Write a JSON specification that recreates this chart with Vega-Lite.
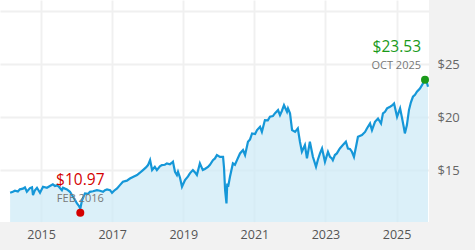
{
  "$schema": "https://vega.github.io/schema/vega-lite/v6.json",
  "width": 429,
  "height": 222,
  "autosize": {"type": "none"},
  "padding": {"left": 0, "top": 0, "right": 46, "bottom": 28},
  "background": "#f2f2f2",
  "config": {
    "view": {"fill": "white", "stroke": null},
    "font": "Open Sans",
    "axis": {"domain": false, "ticks": false, "gridColor": "#f0f0f0", "gridWidth": 2, "title": null}
  },
  "datasets": {
    "series": [
      {"date": "2014-02-17", "value": 12.86}, {"date": "2014-03-17", "value": 12.95}, {"date": "2014-04-08", "value": 13.05},
      {"date": "2014-05-08", "value": 12.98}, {"date": "2014-05-28", "value": 13.18}, {"date": "2014-06-29", "value": 13.25},
      {"date": "2014-07-19", "value": 13.37}, {"date": "2014-08-08", "value": 12.95}, {"date": "2014-09-09", "value": 13.30},
      {"date": "2014-09-30", "value": 13.37}, {"date": "2014-10-10", "value": 12.64}, {"date": "2014-10-30", "value": 13.10},
      {"date": "2014-11-20", "value": 13.33}, {"date": "2014-12-21", "value": 12.86}, {"date": "2015-01-21", "value": 13.43},
      {"date": "2015-03-02", "value": 13.33}, {"date": "2015-04-02", "value": 13.49}, {"date": "2015-05-02", "value": 13.65},
      {"date": "2015-05-23", "value": 13.50}, {"date": "2015-06-13", "value": 13.56}, {"date": "2015-07-03", "value": 13.43},
      {"date": "2015-08-03", "value": 13.10}, {"date": "2015-08-14", "value": 13.33}, {"date": "2015-09-04", "value": 13.25},
      {"date": "2015-09-24", "value": 13.18}, {"date": "2015-10-25", "value": 12.95}, {"date": "2015-11-25", "value": 12.48},
      {"date": "2015-12-15", "value": 12.20}, {"date": "2016-01-05", "value": 11.85}, {"date": "2016-01-26", "value": 11.60},
      {"date": "2016-02-08", "value": 11.35}, {"date": "2016-02-26", "value": 12.17}, {"date": "2016-03-27", "value": 12.80},
      {"date": "2016-04-27", "value": 12.75}, {"date": "2016-05-17", "value": 12.95}, {"date": "2016-06-17", "value": 13.00},
      {"date": "2016-07-28", "value": 13.10}, {"date": "2016-08-28", "value": 13.05}, {"date": "2016-09-29", "value": 12.95},
      {"date": "2016-10-19", "value": 13.10}, {"date": "2016-11-09", "value": 13.18}, {"date": "2016-12-10", "value": 13.10},
      {"date": "2016-12-30", "value": 12.85}, {"date": "2017-01-20", "value": 13.05}, {"date": "2017-02-20", "value": 13.27},
      {"date": "2017-03-21", "value": 13.58}, {"date": "2017-04-21", "value": 13.90}, {"date": "2017-06-01", "value": 14.00},
      {"date": "2017-07-02", "value": 14.20}, {"date": "2017-08-02", "value": 14.35}, {"date": "2017-09-13", "value": 14.53},
      {"date": "2017-10-13", "value": 14.75}, {"date": "2017-11-13", "value": 15.00}, {"date": "2017-12-14", "value": 15.25},
      {"date": "2018-01-04", "value": 15.47}, {"date": "2018-01-25", "value": 15.94}, {"date": "2018-02-15", "value": 15.00},
      {"date": "2018-03-15", "value": 15.30}, {"date": "2018-04-05", "value": 15.00}, {"date": "2018-05-06", "value": 15.35},
      {"date": "2018-05-26", "value": 15.47}, {"date": "2018-06-26", "value": 15.50}, {"date": "2018-07-17", "value": 15.63},
      {"date": "2018-08-17", "value": 15.55}, {"date": "2018-09-07", "value": 15.69}, {"date": "2018-09-17", "value": 15.78},
      {"date": "2018-10-08", "value": 14.84}, {"date": "2018-10-28", "value": 14.53}, {"date": "2018-11-08", "value": 14.84},
      {"date": "2018-11-28", "value": 14.30}, {"date": "2018-12-19", "value": 13.43}, {"date": "2019-01-19", "value": 14.06},
      {"date": "2019-02-19", "value": 14.40}, {"date": "2019-03-10", "value": 14.69}, {"date": "2019-04-10", "value": 15.00},
      {"date": "2019-04-30", "value": 14.80}, {"date": "2019-05-21", "value": 14.53}, {"date": "2019-06-21", "value": 15.63},
      {"date": "2019-07-21", "value": 15.00}, {"date": "2019-08-11", "value": 15.10}, {"date": "2019-09-12", "value": 15.30},
      {"date": "2019-10-02", "value": 15.50}, {"date": "2019-11-02", "value": 15.94}, {"date": "2019-11-23", "value": 16.10},
      {"date": "2019-12-13", "value": 16.42}, {"date": "2020-01-13", "value": 16.25}, {"date": "2020-02-14", "value": 16.25},
      {"date": "2020-02-24", "value": 15.20}, {"date": "2020-03-06", "value": 13.10}, {"date": "2020-03-20", "value": 11.85},
      {"date": "2020-03-28", "value": 13.74}, {"date": "2020-04-06", "value": 13.43}, {"date": "2020-04-25", "value": 14.37},
      {"date": "2020-05-25", "value": 15.63}, {"date": "2020-06-15", "value": 15.50}, {"date": "2020-07-06", "value": 15.94},
      {"date": "2020-08-06", "value": 16.57}, {"date": "2020-09-06", "value": 16.89}, {"date": "2020-09-27", "value": 16.42},
      {"date": "2020-10-27", "value": 17.67}, {"date": "2020-11-17", "value": 17.90}, {"date": "2020-12-08", "value": 18.46},
      {"date": "2021-01-08", "value": 18.40}, {"date": "2021-01-28", "value": 18.77}, {"date": "2021-02-28", "value": 19.08},
      {"date": "2021-03-19", "value": 18.61}, {"date": "2021-04-19", "value": 19.72}, {"date": "2021-05-19", "value": 19.70},
      {"date": "2021-06-10", "value": 20.03}, {"date": "2021-07-10", "value": 20.10}, {"date": "2021-07-30", "value": 20.35},
      {"date": "2021-09-01", "value": 20.66}, {"date": "2021-09-21", "value": 20.19}, {"date": "2021-10-11", "value": 20.60},
      {"date": "2021-11-01", "value": 21.13}, {"date": "2021-12-02", "value": 20.50}, {"date": "2021-12-12", "value": 20.82},
      {"date": "2022-01-02", "value": 20.35}, {"date": "2022-01-23", "value": 18.77}, {"date": "2022-02-23", "value": 18.61},
      {"date": "2022-03-23", "value": 18.93}, {"date": "2022-04-14", "value": 17.67}, {"date": "2022-05-04", "value": 16.73},
      {"date": "2022-06-04", "value": 17.36}, {"date": "2022-06-25", "value": 16.10}, {"date": "2022-07-25", "value": 17.67},
      {"date": "2022-08-25", "value": 16.25}, {"date": "2022-09-26", "value": 15.31}, {"date": "2022-10-16", "value": 16.00},
      {"date": "2022-11-06", "value": 16.57}, {"date": "2022-11-27", "value": 17.04}, {"date": "2022-12-27", "value": 15.78},
      {"date": "2023-01-27", "value": 16.73}, {"date": "2023-02-17", "value": 16.25}, {"date": "2023-03-08", "value": 16.10},
      {"date": "2023-03-18", "value": 15.94}, {"date": "2023-04-08", "value": 16.42}, {"date": "2023-04-28", "value": 16.57},
      {"date": "2023-05-29", "value": 17.04}, {"date": "2023-06-29", "value": 17.36}, {"date": "2023-07-30", "value": 17.67},
      {"date": "2023-08-20", "value": 17.04}, {"date": "2023-09-10", "value": 17.00}, {"date": "2023-09-30", "value": 16.73},
      {"date": "2023-10-21", "value": 16.25}, {"date": "2023-11-11", "value": 17.20}, {"date": "2023-12-01", "value": 18.14},
      {"date": "2024-01-11", "value": 18.30}, {"date": "2024-02-12", "value": 18.60}, {"date": "2024-03-02", "value": 18.93},
      {"date": "2024-04-03", "value": 19.40}, {"date": "2024-04-23", "value": 18.77}, {"date": "2024-05-24", "value": 19.56},
      {"date": "2024-06-24", "value": 19.87}, {"date": "2024-07-25", "value": 19.40}, {"date": "2024-08-14", "value": 20.35},
      {"date": "2024-09-04", "value": 20.50}, {"date": "2024-09-25", "value": 20.82}, {"date": "2024-10-26", "value": 20.98},
      {"date": "2024-11-16", "value": 21.10}, {"date": "2024-12-06", "value": 21.29}, {"date": "2025-01-06", "value": 20.03},
      {"date": "2025-02-06", "value": 20.82}, {"date": "2025-02-27", "value": 19.87}, {"date": "2025-03-17", "value": 19.00},
      {"date": "2025-03-27", "value": 18.46}, {"date": "2025-04-17", "value": 19.25}, {"date": "2025-05-08", "value": 20.66},
      {"date": "2025-05-28", "value": 21.40}, {"date": "2025-06-18", "value": 21.92}, {"date": "2025-07-09", "value": 22.10},
      {"date": "2025-07-29", "value": 22.39}, {"date": "2025-08-29", "value": 22.70}, {"date": "2025-09-19", "value": 23.02},
      {"date": "2025-10-20", "value": 23.50}, {"date": "2025-11-10", "value": 23.20}, {"date": "2025-11-20", "value": 22.86}
    ],
    "marks": [
      {"date": "2016-02-08", "value": 10.97, "label": "$10.97", "sub": "FEB 2016", "kind": "low"},
      {"date": "2025-10-20", "value": 23.53, "label": "$23.53", "sub": "OCT 2025", "kind": "high"}
    ]
  },
  "encoding": {
    "x": {
      "field": "date", "type": "temporal",
      "scale": {"domain": ["2013-11-05", "2025-11-30"]},
      "axis": {
        "values": [{"year": 2015}, {"year": 2017}, {"year": 2019}, {"year": 2021}, {"year": 2023}, {"year": 2025}],
        "format": "%Y", "labelFontSize": 12.5, "labelColor": "#555555", "labelPadding": 6, "labelFlush": false
      }
    },
    "y": {
      "field": "value", "type": "quantitative",
      "scale": {"domain": [10.1, 31.05], "zero": false, "nice": false},
      "axis": {
        "orient": "right", "values": [15, 20, 25, 30],
        "labelExpr": "datum.value == 30 ? '' : '$' + datum.value",
        "labelFontSize": 13, "labelColor": "#666666", "labelPadding": 8, "labelAlign": "left"
      }
    }
  },
  "layer": [
    {
      "data": {"name": "series"},
      "mark": {"type": "area", "color": "#cceaf7", "clip": true, "line": {"color": "#1597d8", "strokeWidth": 2.2}}
    },
    {
      "data": {"name": "marks"},
      "mark": {"type": "circle", "size": 64, "opacity": 1},
      "encoding": {
        "color": {"field": "kind", "type": "nominal", "scale": {"domain": ["low", "high"], "range": ["#d40000", "#1a9a1a"]}, "legend": null}
      }
    },
    {
      "data": {"name": "marks"},
      "transform": [{"filter": "datum.kind == 'low'"}],
      "layer": [
        {"mark": {"type": "text", "align": "center", "baseline": "alphabetic", "dy": -28, "fontSize": 15.5, "fontWeight": 500, "color": "#d40000"}, "encoding": {"text": {"field": "label"}}},
        {"mark": {"type": "text", "align": "center", "baseline": "alphabetic", "dy": -11, "fontSize": 11, "color": "#777777"}, "encoding": {"text": {"field": "sub"}}}
      ]
    },
    {
      "data": {"name": "marks"},
      "transform": [{"filter": "datum.kind == 'high'"}],
      "layer": [
        {"mark": {"type": "text", "align": "right", "baseline": "alphabetic", "dx": -4, "dy": -28, "fontSize": 15.5, "fontWeight": 500, "color": "#1a9a1a"}, "encoding": {"text": {"field": "label"}}},
        {"mark": {"type": "text", "align": "right", "baseline": "alphabetic", "dx": -4, "dy": -11, "fontSize": 11, "color": "#777777"}, "encoding": {"text": {"field": "sub"}}}
      ]
    }
  ]
}
